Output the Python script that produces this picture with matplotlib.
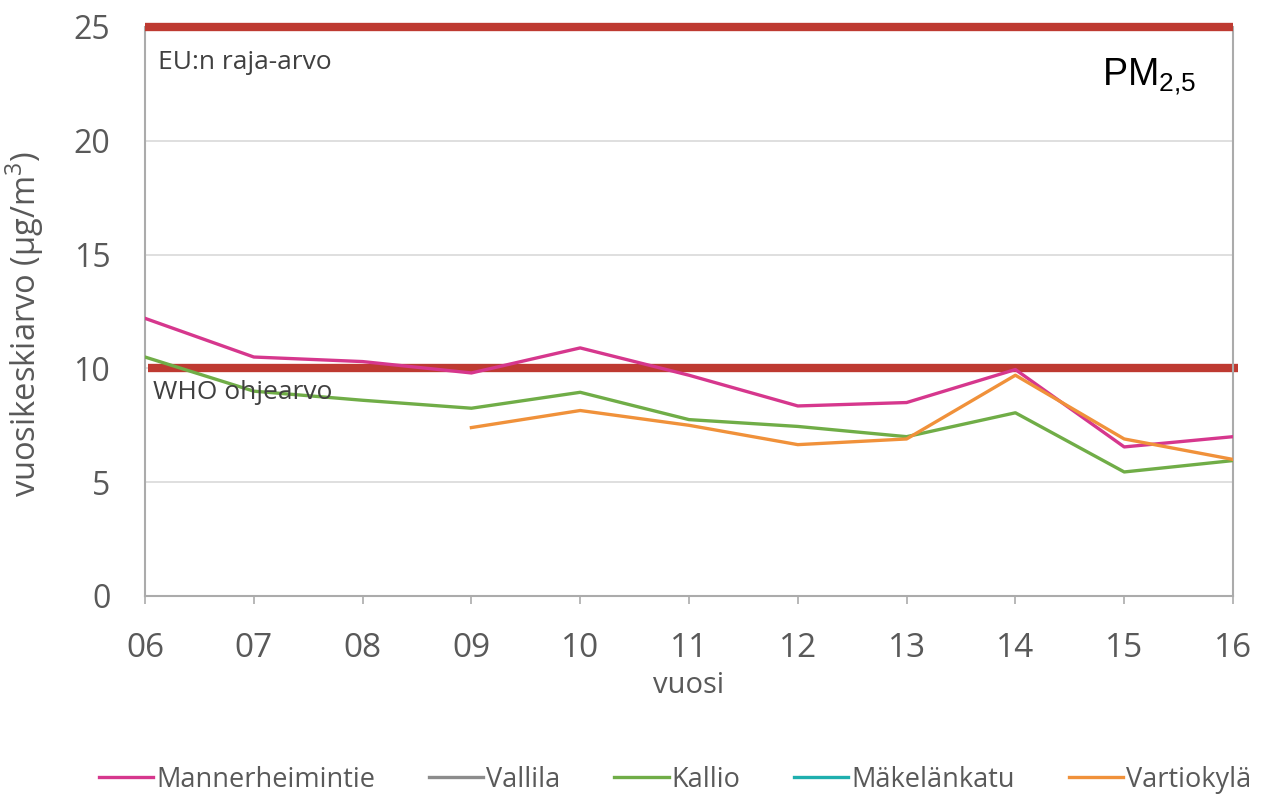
import matplotlib
matplotlib.use("Agg")
import matplotlib.pyplot as plt
import numpy as np

years = [2006, 2007, 2008, 2009, 2010, 2011, 2012, 2013, 2014, 2015, 2016]
year_labels = ["06", "07", "08", "09", "10", "11", "12", "13", "14", "15", "16"]

mannerheimintie = [12.2, 10.5, 10.3, 9.8, 10.9, 9.7, 8.35, 8.5, 9.95, 6.55, 7.0]
vallila = []
kallio = [10.5, 9.0, 8.6, 8.25, 8.95, 7.75, 7.45, 7.0, 8.05, 5.45, 5.95]
makelankatu = []
vartiokyla_years = [2009, 2010, 2011, 2012, 2013, 2014, 2015, 2016]
vartiokyla = [7.4, 8.15, 7.5, 6.65, 6.9, 9.7, 6.9, 6.0]

eu_limit = 25
who_guideline = 10

plt.rcParams['font.family'] = ['Open Sans', 'DejaVu Sans']

fig = plt.figure(figsize=(12.64, 7.98), dpi=100)
ax = fig.add_axes([145/1264, 1-596/798, (1233-145)/1264, (596-27)/798])

text_gray = '#595959'
grid_gray = '#D9D9D9'
red = '#BE3A31'

ax.set_xlim(2006, 2016)
ax.set_ylim(0, 25)
ax.set_yticks([0, 5, 10, 15, 20, 25])
ax.set_xticks(years)
ax.set_xticklabels(year_labels)
ax.yaxis.grid(True, color=grid_gray, linewidth=1.2)
ax.set_axisbelow(True)
for s in ['left', 'right', 'bottom']:
    ax.spines[s].set_color('#ABABAB')
    ax.spines[s].set_linewidth(1.5)
ax.spines['top'].set_visible(False)
ax.tick_params(axis='y', length=0, pad=25, labelsize=23, labelcolor=text_gray)
ax.tick_params(axis='x', length=6, width=1.2, color='#ABABAB', pad=20, labelsize=24, labelcolor=text_gray)

ax.plot(years, mannerheimintie, color='#D6378D', lw=2.4, label='Mannerheimintie', zorder=3)
ax.plot(vallila, vallila, color='#8C8C8C', lw=2.4, label='Vallila')
ax.plot(years, kallio, color='#70AD47', lw=2.4, label='Kallio', zorder=3)
ax.plot(makelankatu, makelankatu, color='#1FAFAE', lw=2.4, label='Mäkelänkatu')
ax.plot(vartiokyla_years, vartiokyla, color='#F0913A', lw=2.4, label='Vartiokylä', zorder=3)

ax.plot([2006, 2016], [eu_limit, eu_limit], color=red, lw=6, solid_capstyle='butt', clip_on=False, zorder=4)
ax.plot([2006.03, 2016.05], [who_guideline, who_guideline], color=red, lw=6, solid_capstyle='butt', clip_on=False, zorder=2)

ax.text(2006.12, 23.45, 'EU:n raja-arvo', fontsize=19, color='#404040', va='center', ha='left')
ax.text(2006.07, 8.95, 'WHO ohjearvo', fontsize=19, color='#404040', va='center', ha='left', zorder=5)
ax.text(2015.66, 22.8, r'PM$_{\mathregular{2{,}5}}$', fontsize=27, color='black', va='center', ha='right',
        family=['Liberation Sans'])

ax.set_ylabel('vuosikeskiarvo (µg/m$^{\\mathregular{3}}$)', fontsize=23.5, color=text_gray)
ax.yaxis.set_label_coords(-(145 - 46) / 1088, 0.478)
ax.set_xlabel('vuosi', fontsize=21, color=text_gray, labelpad=4)

fig.legend(loc='lower center', bbox_to_anchor=(0.534, -0.025), ncol=5, frameon=False,
           fontsize=19.5, handlelength=2.0, handletextpad=0.1, columnspacing=2.0,
           labelcolor=text_gray)

fig.savefig('out.png', dpi=100)
